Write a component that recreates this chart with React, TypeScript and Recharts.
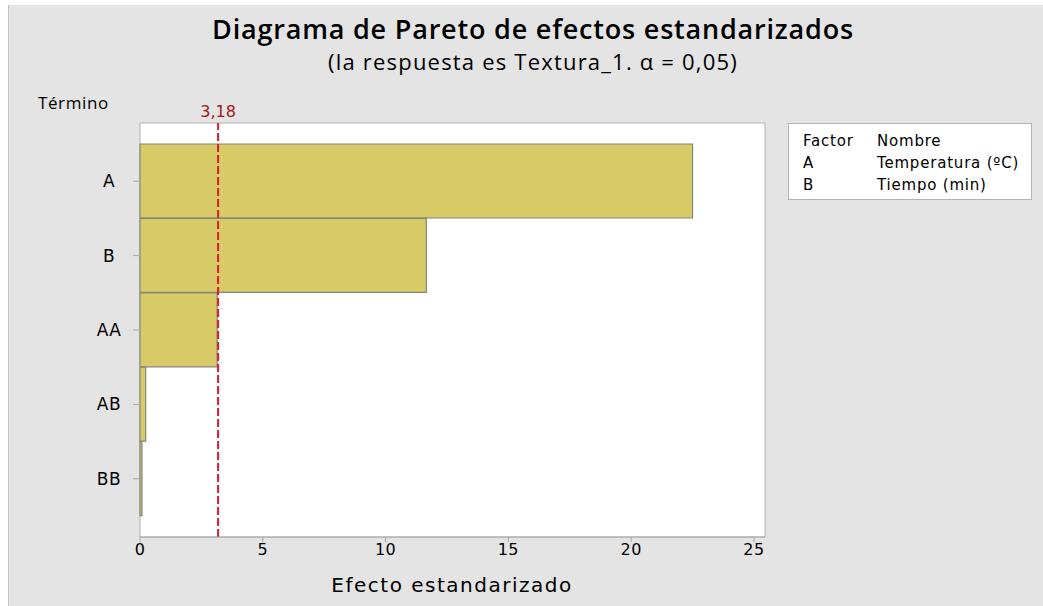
import { Bar, BarChart, CartesianGrid, ReferenceLine, XAxis, YAxis } from "recharts"

const terms = ["A", "B", "AA", "AB", "BB"]
const effects = [22.5, 11.66, 3.14, 0.23, 0.08]
const xTicks = [0, 5, 10, 15, 20, 25]
const critical = 3.18
const factorRows = [
  { factor: "A", name: "Temperatura (ºC)" },
  { factor: "B", name: "Tiempo (min)" },
]

const data = terms.map((term, i) => ({ term, effect: effects[i] }))

const W = 1043
const H = 606
const tickFont = "'DejaVu Sans', Verdana, sans-serif"
const titleFont = "'Open Sans', 'Noto Sans', sans-serif"

function TermTick(props: any) {
  const { x, y, payload } = props
  return (
    <text
      x={x - 22}
      y={y}
      dy={6}
      textAnchor="middle"
      fontFamily={tickFont}
      fontSize={17}
      letterSpacing={0.5}
      fill="#000"
    >
      {payload.value}
    </text>
  )
}

export default function App() {
  return (
    <div style={{ position: "absolute", left: 0, top: 0, width: W, height: H, background: "#fff" }}>
      <div
        style={{
          position: "absolute",
          left: 8,
          top: 5,
          right: 0,
          bottom: 0,
          background: "#e4e4e4",
          borderLeft: "1px solid #c4c4c4",
        }}
      />
      <div style={{ position: "absolute", left: 0, top: 0 }}>
        <BarChart
          width={W}
          height={H}
          data={data}
          layout="vertical"
          barCategoryGap={0}
          margin={{ top: 123, right: 278, bottom: 39, left: 80 }}
        >
          <CartesianGrid
            fill="#fff"
            stroke="#b4b4b4"
            horizontalCoordinatesGenerator={({ offset }: any) => [offset.top, offset.top + offset.height]}
            verticalCoordinatesGenerator={({ offset }: any) => [offset.left, offset.left + offset.width]}
          />
          <XAxis
            type="number"
            domain={[0, 25.45]}
            ticks={xTicks}
            height={30}
            stroke="#a8a8a8"
            tickSize={5}
            tick={{ fill: "#000", fontSize: 16, fontFamily: tickFont, letterSpacing: 0.4 }}
            interval={0}
          />
          <YAxis
            type="category"
            dataKey="term"
            width={60}
            padding={{ top: 21, bottom: 21 }}
            axisLine={false}
            tickSize={7}
            tickLine={{ stroke: "#a8a8a8" }}
            tick={<TermTick />}
          />
          <Bar
            dataKey="effect"
            fill="#d8ca66"
            stroke="#85857a"
            strokeWidth={1.2}
            isAnimationActive={false}
          />
          <ReferenceLine
            x={critical}
            stroke="#d81e2a"
            strokeWidth={2}
            strokeDasharray="8 3"
            label={{
              value: "3,18",
              position: "top",
              offset: 6,
              fill: "#a01818",
              fontSize: 16,
              fontFamily: tickFont,
            }}
          />
        </BarChart>
      </div>
      <svg
        width={W}
        height={H}
        style={{ position: "absolute", left: 0, top: 0, pointerEvents: "none" }}
      >
        <text x={533} y={39} textAnchor="middle" fontFamily={titleFont} fontWeight={600} fontSize={27} letterSpacing={0.8} fill="#000">
          Diagrama de Pareto de efectos estandarizados
        </text>
        <text x={533} y={70} textAnchor="middle" fontFamily={titleFont} fontSize={22} letterSpacing={1.2} fill="#000">
          (la respuesta es Textura_1. α = 0,05)
        </text>
        <text x={38} y={109} fontFamily={titleFont} fontSize={17} letterSpacing={0.6} fill="#000">
          Término
        </text>
        <text x={452} y={592} textAnchor="middle" fontFamily={tickFont} fontSize={20} letterSpacing={1.5} fill="#000">
          Efecto estandarizado
        </text>
        <rect x={788.5} y={123.5} width={243} height={76} fill="#fff" stroke="#b4b4b4" />
        <text x={803} y={146} fontFamily={tickFont} fontSize={15} letterSpacing={0.8} fill="#000">
          Factor
        </text>
        <text x={877} y={146} fontFamily={tickFont} fontSize={15} letterSpacing={0.8} fill="#000">
          Nombre
        </text>
        {factorRows.map((r, i) => (
          <g key={r.factor}>
            <text x={803} y={168 + i * 22} fontFamily={tickFont} fontSize={15} letterSpacing={0.8} fill="#000">
              {r.factor}
            </text>
            <text x={877} y={168 + i * 22} fontFamily={tickFont} fontSize={15} letterSpacing={0.8} fill="#000">
              {r.name}
            </text>
          </g>
        ))}
      </svg>
    </div>
  )
}
